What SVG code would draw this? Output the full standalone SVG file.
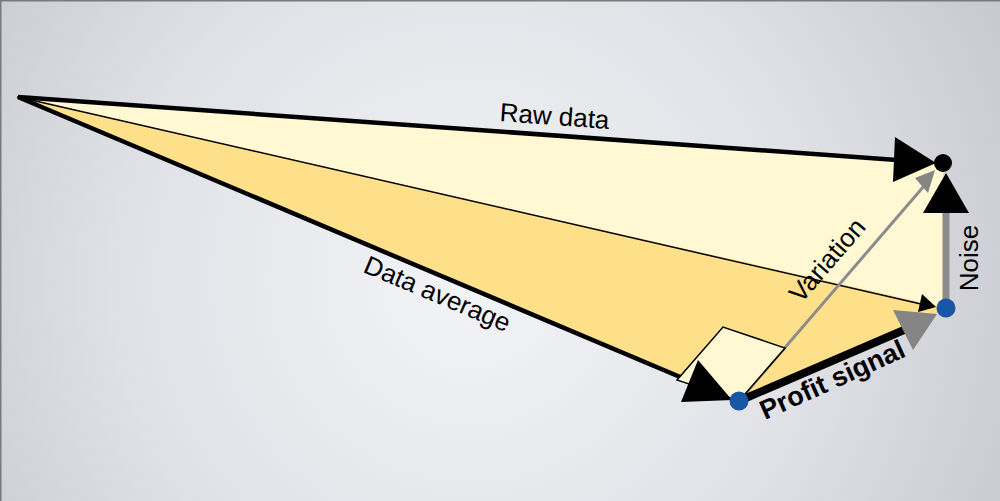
<svg xmlns="http://www.w3.org/2000/svg" width="1000" height="501" viewBox="0 0 1000 501">
<defs>
<radialGradient id="bg" cx="470" cy="280" r="620" gradientUnits="userSpaceOnUse">
<stop offset="0" stop-color="#F3F4F6"/>
<stop offset="0.55" stop-color="#E1E2E7"/>
<stop offset="1" stop-color="#C6C7CE"/>
</radialGradient>
<style>
.lbl{font-family:"Liberation Sans",Arial,sans-serif;font-size:26px;fill:#000;text-anchor:middle}
.bold{font-weight:bold;font-size:27px}
.head{fill:#000}
.ghead{fill:#858585}
.blue{fill:#1A56A6}
</style>
</defs>
<rect x="0" y="0" width="1000" height="501" fill="url(#bg)"/>
<path d="M0.75,501 V0.75 H1000" fill="none" stroke="#7A7A7A" stroke-width="1.5"/>
<g id="areas">
<polygon points="18,97 943,163 946,308" fill="#FFF8D2"/>
<polygon points="18,97 946,308 739,401" fill="#FEDF8A"/>
</g>
<g id="connectors">
<line x1="18" y1="97" x2="921" y2="304" stroke="#000" stroke-width="1.5"/>
<polygon class="head" points="922,294 918,312 936,307"/>
<line x1="18" y1="97" x2="897" y2="160" stroke="#000" stroke-width="4.5"/>
<polygon class="head" points="895,137 893,182 936,163"/>
<line x1="18" y1="97" x2="692" y2="382" stroke="#000" stroke-width="4.5"/>
<line x1="739" y1="401" x2="924" y2="186" stroke="#8C8C8C" stroke-width="3"/>
<polygon class="ghead" points="915,178 928,193 935,170"/>
<polygon points="739,401 785,348 723,327 677,380" fill="#FFF8D2" stroke="#000" stroke-width="1.5"/>
<polygon class="head" points="698,360 681,402 732,400"/>
<line x1="946" y1="308" x2="946" y2="210" stroke="#8C8C8C" stroke-width="7"/>
<polygon class="head" points="946,173 923,213 969,213"/>
<line x1="739" y1="401" x2="904" y2="330" stroke="#000" stroke-width="8"/>
<polygon class="ghead" points="893,310 913,350 937,314"/>
</g>
<g id="origin"><circle cx="18" cy="97" r="1" fill="#000"/></g>
<g id="raw-point"><circle cx="943" cy="163" r="9" fill="#000"/></g>
<g id="signal-point"><circle class="blue" cx="946" cy="308" r="9.5"/></g>
<g id="average-point"><circle class="blue" cx="739" cy="401" r="9.5"/></g>
<g id="labels">
<text class="lbl" transform="translate(554,125) rotate(4.1)">Raw data</text>
<text class="lbl" transform="translate(434,302) rotate(22.9)">Data average</text>
<text class="lbl" transform="translate(834,266) rotate(-49.2)">Variation</text>
<text class="lbl" transform="translate(978,258) rotate(-90)">Noise</text>
<text class="lbl bold" transform="translate(836,388) rotate(-24.3)">Profit signal</text>
</g>
</svg>
